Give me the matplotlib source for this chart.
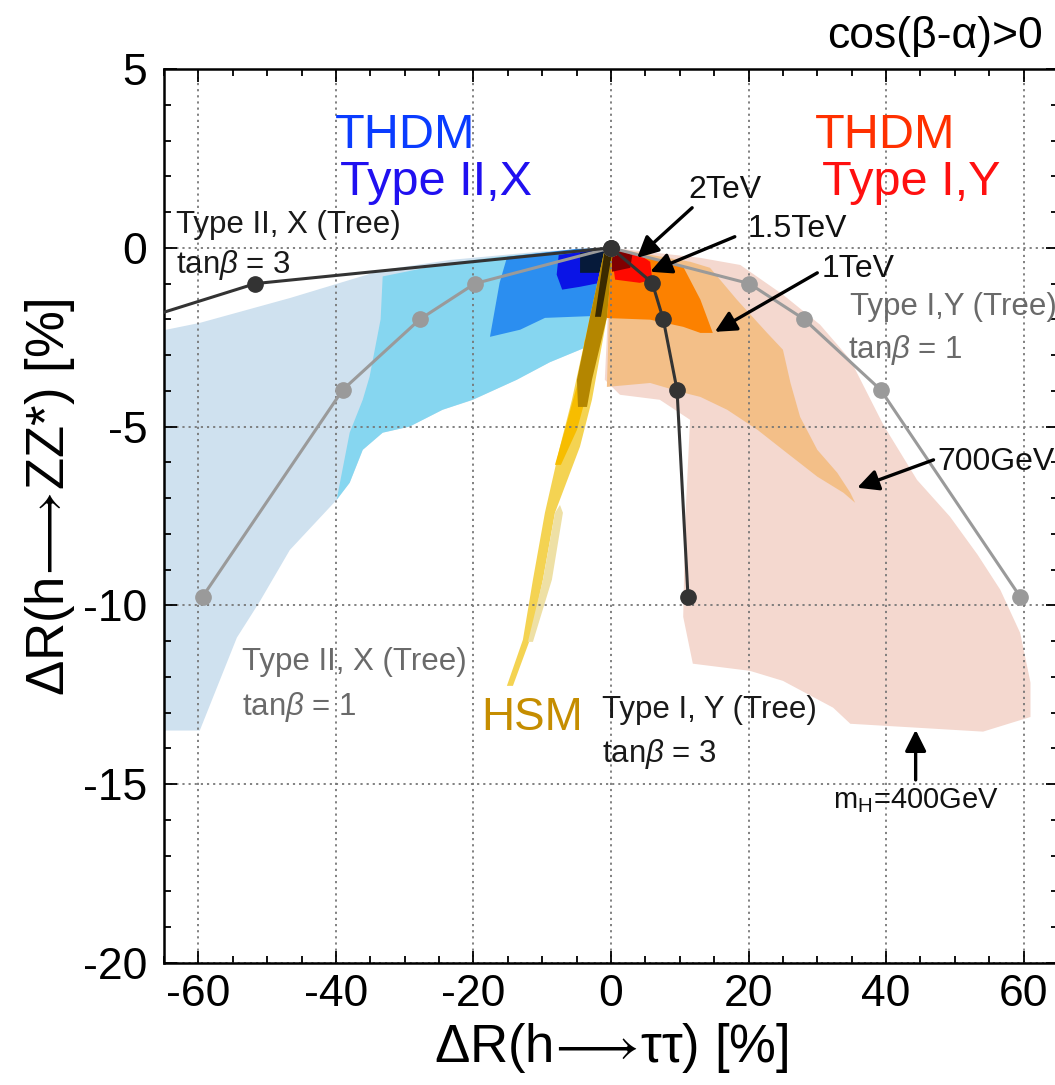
import matplotlib
matplotlib.use("Agg")
import matplotlib.pyplot as plt
from matplotlib.ticker import MultipleLocator

plt.rcParams['font.family'] = ['Liberation Sans', 'DejaVu Sans']
plt.rcParams['mathtext.fontset'] = 'custom'
plt.rcParams['mathtext.rm'] = 'Liberation Sans'
plt.rcParams['mathtext.it'] = 'Liberation Sans:italic'
plt.rcParams['axes.unicode_minus'] = False

# ---- scan regions (outlines, in data units) ----
lightblue_x = [-66, -64.9, -59.8, -46.6, -33.2, -23.4, -10, 0, -1.5, -4.5, -8.9, -13.7, -20.1,
               -24.5, -29.3, -33.2, -36.1, -38.0, -39.9, -46.7, -51.1, -54.4, -59.8, -64.2, -66]
lightblue_y = [-2.4, -2.3, -2.1, -1.4, -0.62, -0.34, -0.1, 0, -2.6, -2.85, -3.2, -3.69, -4.25,
               -4.53, -5.0, -5.17, -5.65, -6.57, -7.05, -8.45, -9.9, -10.9, -13.5, -13.5, -13.5]
cyan_x = [-33.2, -23.4, -16.2, -5, 0, -1.5, -4.5, -8.9, -13.7, -20.1, -24.5, -29.3, -33.2,
          -36.1, -38.0, -39.9, -38.0, -36.1, -35.1, -33.5]
cyan_y = [-0.8, -0.42, -0.25, -0.05, 0, -2.6, -2.85, -3.2, -3.69, -4.25, -4.53, -5.0, -5.17,
          -5.65, -6.57, -7.05, -5.17, -4.25, -3.6, -2.0]
midblue_x = [-15.1, -5, 0, -1.6, -9.6, -13.2, -17.6, -16.2]
midblue_y = [-0.25, -0.03, 0, -1.9, -1.96, -2.29, -2.49, -0.98]
darkblue_x = [-7.6, -3.8, 0, -0.6, -1.6, -4.5, -7.1, -7.9]
darkblue_y = [-0.2, -0.1, 0, -0.34, -0.98, -1.09, -1.17, -0.75]
navy_x = [-4.5, 0, -1.3, -4.5]
navy_y = [-0.15, 0, -0.7, -0.7]

pink_x = [0, 12.95, 18.8, 25.0, 30.4, 34.8, 39.6, 44.5, 49.3, 53.3, 56.6, 59.5, 61.0, 61.0,
          54.1, 44.5, 34.8, 32.3, 25.0, 20.2, 11.9, 10.5, 10.8, 11.5, 7.1, 1.3, -0.9]
pink_y = [0, -0.28, -0.48, -1.31, -2.15, -3.13, -4.95, -6.49, -7.52, -8.58, -9.56, -10.77, -12.16,
          -13.12, -13.53, -13.42, -13.31, -12.86, -12.11, -11.83, -11.63, -10.32, -7.61, -4.81,
          -4.25, -4.11, -3.69]
lorange_x = [0, 11.5, 14.4, 18.3, 22.7, 25.0, 26.1, 27.5, 30.0, 32.9, 34.8, 35.5, 33.8, 30.0,
             25.0, 21.3, 16.9, 13.0, 10.5, 5.7, -0.6]
lorange_y = [0, -0.39, -0.56, -1.45, -2.38, -2.85, -3.78, -4.73, -5.65, -6.29, -6.85, -7.13,
             -6.85, -6.4, -5.65, -5.09, -4.53, -4.17, -4.05, -3.78, -3.89]
orange_x = [0, 0.9, 7.1, 10.5, 13.0, 14.8, 13.0, 10.5, 5.7, -1.2]
orange_y = [0, -0.14, -0.34, -0.53, -1.45, -2.38, -2.38, -2.21, -2.01, -1.96]
red_x = [0, 4.2, 5.7, 6.0, 4.2, 0.6]
red_y = [-0.06, -0.2, -0.39, -0.89, -0.98, -0.89]
darkred_x = [0, 3.1, 2.8, 0.15]
darkred_y = [0, -0.2, -0.56, -0.67]

# HSM band pieces
hsm_light_x = [-0.87, -3.06, -5.68, -7.42, -9.61, -11.35, -12.81, -15.14, -14.26, -11.79,
               -9.90, -8.15, -4.51, -2.77, -0.58, 0.29]
hsm_light_y = [0, -1.93, -4.25, -5.56, -7.41, -9.28, -10.96, -12.25, -12.25, -10.96,
               -9.28, -7.41, -5.56, -4.25, -1.93, 0]
hsm_pale_x = [-7.42, -6.99, -8.59, -11.35, -12.08, -9.90, -8.15]
hsm_pale_y = [-7.19, -7.41, -9.28, -11.02, -11.02, -9.28, -7.41]
hsm_yel_x = [-3.8, -4.51, -6.70, -8.15, -7.28, -4.95, -2.77, -1.9]
hsm_yel_y = [-2.57, -3.55, -5.09, -6.07, -6.07, -5.09, -3.55, -2.57]
hsm_gold_x = [-0.87, -3.06, -4.95, -4.80, -3.49, -2.77, -0.58, 0.29]
hsm_gold_y = [0, -1.93, -3.69, -4.45, -4.45, -3.69, -1.93, 0]
hsm_dark_x = [-0.87, -2.33, -1.46, 0.29]
hsm_dark_y = [0, -1.93, -1.93, 0]

# ---- tree-level lines ----
t2_tb3_x = [0, -51.7, -68.3]
t2_tb3_y = [0, -1.0, -2.0]
t2_tb1_x = [0, -19.8, -27.8, -39.0, -59.4]
t2_tb1_y = [0, -1.0, -2.0, -3.97, -9.76]
t1_tb3_x = [0, 6.0, 7.6, 9.6, 11.2]
t1_tb3_y = [0, -0.98, -2.0, -3.97, -9.76]
t1_tb1_x = [0, 20.1, 28.1, 39.2, 59.5]
t1_tb1_y = [0, -1.0, -2.0, -3.97, -9.76]

# ---- mass arrows: label, text pos, arrow tail, arrow head ----
mass_labels = ['2TeV', '1.5TeV', '1TeV', '700GeV']
mass_text_xy = [(11.2, 1.40), (19.8, 0.31), (30.7, -0.81), (47.5, -6.21)]
mass_tail = [(11.8, 1.12), (18.0, 0.31), (30.0, -0.70), (46.9, -5.93)]
mass_head = [(3.8, -0.28), (5.7, -0.67), (15.1, -2.35), (35.8, -6.71)]

fig = plt.figure(figsize=(10.55, 10.85), dpi=100)
ax = fig.add_axes([164 / 1055, 122 / 1085, 894 / 1055, 894 / 1085])

regions = [
    (lightblue_x, lightblue_y, '#cfe1ef'),
    (cyan_x, cyan_y, '#86d6f0'),
    (midblue_x, midblue_y, '#2b8ef0'),
    (darkblue_x, darkblue_y, '#0a14e6'),
    (navy_x, navy_y, '#061a3a'),
    (pink_x, pink_y, '#f4d8cf'),
    (lorange_x, lorange_y, '#f3bf88'),
    (orange_x, orange_y, '#fc8100'),
    (red_x, red_y, '#ff0a00'),
    (darkred_x, darkred_y, '#800000'),
    (hsm_light_x, hsm_light_y, '#f4d352'),
    (hsm_pale_x, hsm_pale_y, '#eee0a5'),
    (hsm_yel_x, hsm_yel_y, '#f7bd00'),
    (hsm_gold_x, hsm_gold_y, '#b48600'),
    (hsm_dark_x, hsm_dark_y, '#3a2a00'),
]
for xs, ys, c in regions:
    ax.fill(xs, ys, color=c, lw=0, zorder=1)

dark = '#333333'
grey = '#9a9a9a'
ax.plot(t2_tb1_x, t2_tb1_y, '-o', color=grey, lw=2.2, ms=11, zorder=3)
ax.plot(t1_tb1_x, t1_tb1_y, '-o', color=grey, lw=2.2, ms=11, zorder=3)
ax.plot(t2_tb3_x, t2_tb3_y, '-o', color=dark, lw=2.2, ms=11, zorder=4)
ax.plot(t1_tb3_x, t1_tb3_y, '-o', color=dark, lw=2.2, ms=11, zorder=4)

aprops = dict(arrowstyle='-|>', color='black', lw=2.4, mutation_scale=32,
              shrinkA=0, shrinkB=0)
for lab, txy, tail, head in zip(mass_labels, mass_text_xy, mass_tail, mass_head):
    ax.annotate('', xy=head, xytext=tail, arrowprops=aprops, zorder=6)
    ax.text(txy[0], txy[1], lab, fontsize=23, color='#111111', va='baseline', zorder=6)
ax.annotate('', xy=(44.3, -13.48), xytext=(44.3, -14.88), arrowprops=aprops, zorder=6)
ax.text(32.3, -15.66, r'm$_\mathrm{H}$=400GeV', fontsize=21, color='#111111', va='baseline')

# big labels
ax.text(-40.2, 2.80, 'THDM', fontsize=35, color='#0a3cff', va='baseline')
ax.text(-39.4, 1.48, 'Type II,X', fontsize=35, color='#2010f0', va='baseline')
ax.text(29.7, 2.80, 'THDM', fontsize=35, color='#ff3000', va='baseline')
ax.text(30.7, 1.48, 'Type I,Y', fontsize=35, color='#ff1010', va='baseline')
ax.text(-18.8, -13.48, 'HSM', fontsize=33, color='#c58d00', va='baseline')

# tree labels
blk = '#1a1a1a'
gtx = '#6a6a6a'
fs = 22.5
ax.text(-63.2, 0.42, 'Type II, X (Tree)', fontsize=fs, color=blk, va='baseline')
ax.text(-63.2, -0.70, r'tan$\beta$ = 3', fontsize=fs, color=blk, va='baseline')
ax.text(34.8, -1.87, 'Type I,Y (Tree)', fontsize=fs, color=gtx, va='baseline', clip_on=False)
ax.text(34.5, -3.08, r'tan$\beta$ = 1', fontsize=fs, color=gtx, va='baseline')
ax.text(-53.6, -11.8, 'Type II, X (Tree)', fontsize=fs, color=gtx, va='baseline')
ax.text(-53.6, -13.06, r'tan$\beta$ = 1', fontsize=fs, color=gtx, va='baseline')
ax.text(-1.3, -13.14, 'Type I, Y (Tree)', fontsize=fs, color=blk, va='baseline')
ax.text(-1.3, -14.37, r'tan$\beta$ = 3', fontsize=fs, color=blk, va='baseline')

ax.set_xlim(-65, 65)
ax.set_ylim(-20, 5)
ax.xaxis.set_major_locator(MultipleLocator(20))
ax.xaxis.set_minor_locator(MultipleLocator(5))
ax.yaxis.set_major_locator(MultipleLocator(5))
ax.yaxis.set_minor_locator(MultipleLocator(1))
ax.set_axisbelow('line')
ax.grid(True, which='major', color='#777777', linestyle=(0, (1.2, 2.2)), lw=1.3)
ax.tick_params(which='both', direction='in', top=True, right=True, width=1.3)
ax.tick_params(which='major', length=9)
ax.tick_params(which='minor', length=5)
ax.tick_params(axis='x', labelsize=32, pad=8)
ax.tick_params(axis='y', labelsize=32, pad=12)
for sp in ax.spines.values():
    sp.set_linewidth(1.8)

fig.text(611 / 1055, 0.034, r'ΔR(h$\!\longrightarrow\!$ττ) [%]', fontsize=38,
         ha='center', va='center')
fig.text(50 / 1055, 0.542, r'ΔR(h$\!\longrightarrow\!$ZZ*) [%]', fontsize=38,
         ha='center', va='center', rotation=90)
fig.text(1043 / 1055, (1085 - 48) / 1085, 'cos(β-α)>0', fontsize=32, ha='right',
         va='baseline')

fig.savefig('out.png', dpi=100)
